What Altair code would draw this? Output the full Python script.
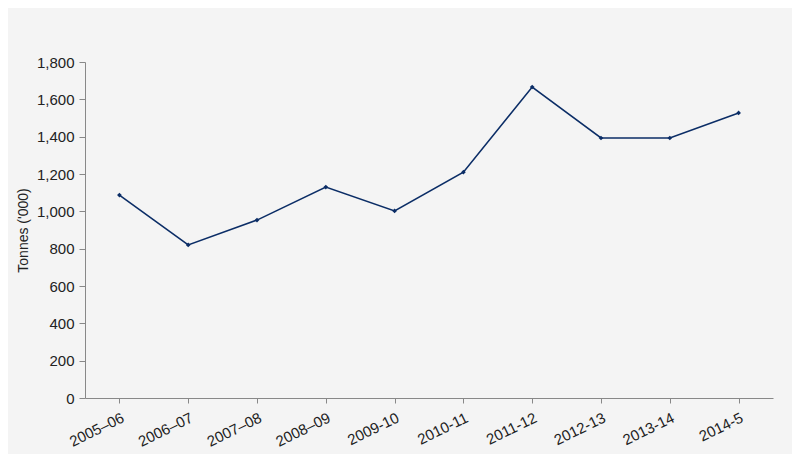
import altair as alt
import pandas as pd

years = ["2005–06", "2006–07", "2007–08", "2008–09", "2009-10",
         "2010-11", "2011-12", "2012-13", "2013-14", "2014-5"]
tonnes = [1087, 820, 953, 1130, 1002, 1210, 1666, 1393, 1393, 1527]
y_ticks = [0, 200, 400, 600, 800, 1000, 1200, 1400, 1600, 1800]

df = pd.DataFrame({"year": years, "tonnes": tonnes})

x = alt.X("year:N", sort=years, title=None,
          scale=alt.Scale(paddingInner=0, paddingOuter=0),
          axis=alt.Axis(labelAngle=-26, labelAlign="right", labelBaseline="top",
                        labelFontSize=15, labelColor="#222222", labelFont="Liberation Sans",
                        bandPosition=0, tickSize=5, tickColor="#888888", labelOverlap=False,
                        domainColor="#888888", labelPadding=7))
y = alt.Y("tonnes:Q", title="Tonnes ('000)",
          scale=alt.Scale(domain=[0, 1800], nice=False, zero=True),
          axis=alt.Axis(values=y_ticks, format=",.0f", labelOverlap=False,
                        labelFontSize=15, labelColor="#222222", labelFont="Liberation Sans",
                        labelPadding=5,
                        titleFontSize=14, titleFontWeight="normal", titleColor="#222222",
                        titleFont="Liberation Sans", titlePadding=6,
                        grid=False, tickSize=6, tickColor="#888888", domainColor="#888888"))

base = alt.Chart(df).encode(x=x, y=y)
line = base.mark_line(color="#0b2d66", strokeWidth=1.6)
pts = base.mark_point(shape="diamond", filled=True, size=22, color="#0b2d66", opacity=1)

chart = (line + pts).properties(
    width=688, height=336,
    background="#f4f4f4",
    padding={"left": 77, "top": 54, "right": 19, "bottom": 56},
    autosize=alt.AutoSizeParams(type="none"),
).configure_view(stroke=None)

chart.save("out.html", embed_options={"renderer": "svg", "actions": False})
